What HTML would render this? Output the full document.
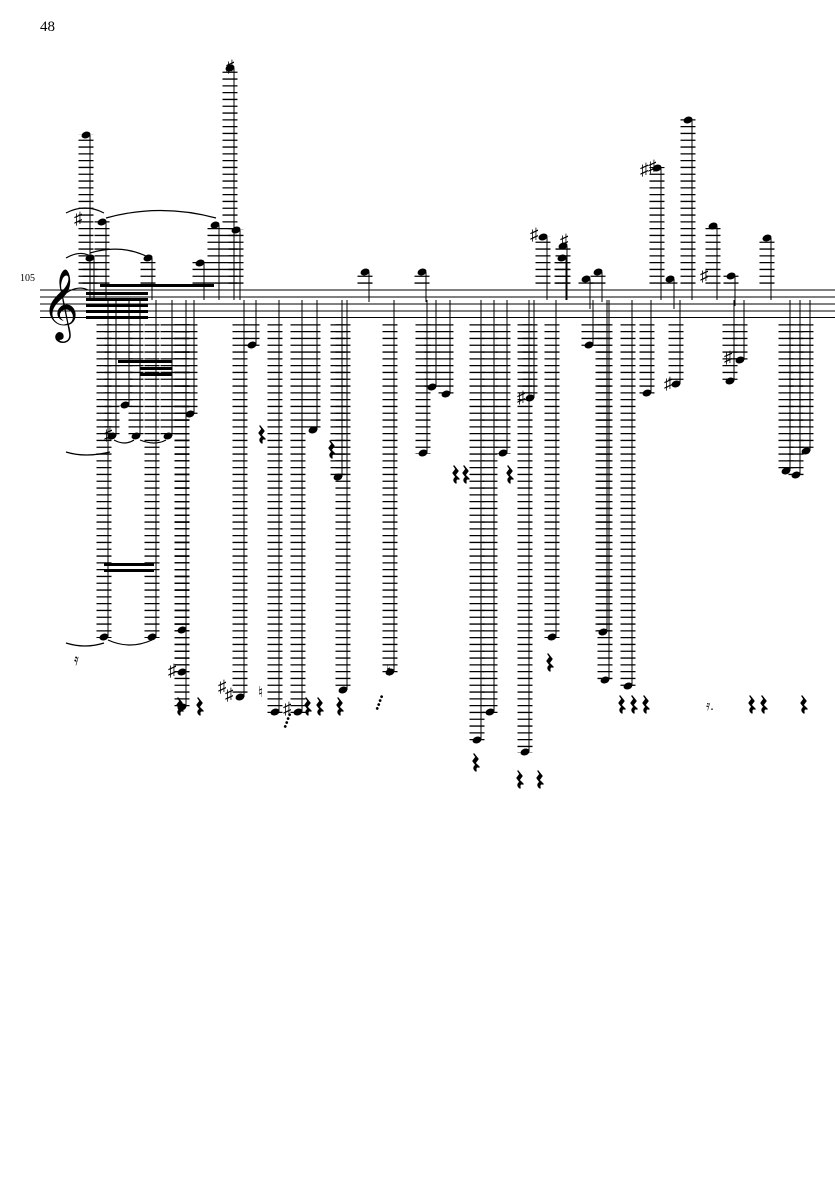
<!DOCTYPE html>
<html><head><meta charset="utf-8"><style>
html,body{margin:0;padding:0;background:#fff;width:835px;height:1181px;overflow:hidden}
svg{display:block}
text{font-family:"Liberation Serif","DejaVu Serif",serif;fill:#000}
</style></head><body>
<svg id="s" width="835" height="1181" viewBox="0 0 835 1181" xmlns="http://www.w3.org/2000/svg">
<text x="40" y="31" font-size="15">48</text>
<text x="20" y="281" font-size="10">105</text>
<g stroke="#000" stroke-width="0.9">
<line x1="40" y1="290" x2="835" y2="290"/><line x1="40" y1="297" x2="835" y2="297"/>
<line x1="40" y1="304" x2="835" y2="304"/><line x1="40" y1="311" x2="835" y2="311"/>
<line x1="40" y1="317.5" x2="835" y2="317.5"/>
</g>
<text x="42" y="325" font-size="62" font-family="DejaVu Sans">𝄞</text>
<g fill="none" stroke="#000" stroke-width="1.2">
<path d="M66 213 Q85 203 104 213"/><path d="M106 218 Q160 203 216 218"/>
<path d="M66 258 Q80 250 90 256"/><path d="M90 253 Q120 244 146 256"/>
<path d="M66 293 Q78 285 88 290"/>
<path d="M66 452 Q85 458 110 452"/><path d="M114 440 Q125 446 134 440"/><path d="M140 440 Q155 446 166 440"/>
<path d="M66 643 Q85 649 104 643"/><path d="M108 640 Q130 650 152 640"/>
</g>
<g id="g"></g>
</svg>
<script>
var g=document.getElementById('g'),h='';
var up=[[86,135],[102,222],[148,258],[90,258],[200,263],[215,225],[230,68],[236,230],[365,272],[422,272],[543,237],[562,258],[563,246],[586,279],[598,272],[657,168],[688,120],[713,226],[731,276],[767,238],[670,279]];
var dn=[[104,637],[125,405],[112,436],[136,436],[168,436],[190,414],[182,707],[240,697],[252,345],[275,712],[298,712],[313,430],[343,690],[338,477],[390,672],[432,387],[446,394],[423,453],[477,740],[490,712],[503,453],[525,752],[530,398],[552,637],[589,345],[603,632],[605,680],[628,686],[647,393],[676,384],[740,360],[730,381],[786,471],[796,475],[806,451],[152,637],[182,630],[182,672]];
function note(x,y){h+='<ellipse cx="'+x+'" cy="'+y+'" rx="4.6" ry="3.3" transform="rotate(-20 '+x+' '+y+')"/>';}
up.forEach(function(n){var x=n[0],y=n[1];
 if(y<284)h+='<line x1="'+x+'" y1="283.7" x2="'+x+'" y2="'+(y-1)+'" stroke="#000" stroke-width="15" stroke-dasharray="1.3 5.5"/>';
 h+='<line x1="'+(x+4)+'" y1="'+y+'" x2="'+(x+4)+'" y2="'+Math.max(y+30,300)+'" stroke="#000" stroke-width="1"/>';
 note(x,y);});
dn.forEach(function(n){var x=n[0],y=n[1];
 if(y>323)h+='<line x1="'+x+'" y1="324.2" x2="'+x+'" y2="'+(y+1)+'" stroke="#000" stroke-width="15" stroke-dasharray="1.3 5.5"/>';
 h+='<line x1="'+(x+4)+'" y1="'+y+'" x2="'+(x+4)+'" y2="'+Math.min(y-30,300)+'" stroke="#000" stroke-width="1"/>';
 note(x,y);});
h+='<rect x="86" y="292" width="62" height="3"/><rect x="86" y="298" width="62" height="3"/><rect x="86" y="304" width="62" height="3"/><rect x="86" y="310" width="62" height="3"/><rect x="86" y="316" width="62" height="3"/>';
h+='<rect x="100" y="284" width="114" height="3"/>';
h+='<rect x="118" y="360" width="54" height="3"/><rect x="140" y="367" width="32" height="3"/><rect x="140" y="373" width="32" height="3"/>';
h+='<rect x="104" y="563" width="50" height="3"/><rect x="104" y="569" width="50" height="3"/>';
[[74,224],[226,72],[648,172],[530,240],[560,246],[700,281],[724,363],[664,389],[517,403],[104,440],[168,676],[225,700],[283,714],[640,175],[218,692]].forEach(function(p){h+='<text x="'+p[0]+'" y="'+p[1]+'" font-size="17">♯</text>';});
[[258,697],[386,676]].forEach(function(p){h+='<text x="'+p[0]+'" y="'+p[1]+'" font-size="15">♮</text>';});
[[258,440],[328,455],[176,712],[196,712],[452,480],[462,480],[506,480],[336,712],[304,712],[316,712],[472,768],[516,785],[536,785],[546,668],[618,710],[630,710],[642,710],[748,710],[760,710],[800,710]].forEach(function(p){var x=p[0]+2,y=p[1]-14;
 h+='<path d="M'+x+' '+y+' l4 5 l-3 4 l4 4 q-4 -1 -3 4 q-4 -3 0 -6 l-3 -4 l3 -4 z" fill="#000" stroke="#000" stroke-width="1.4" stroke-linejoin="round"/>';});
h+='<text x="706" y="710" font-size="14">𝄿.</text><text x="74" y="665" font-size="16">𝄿</text>';
h+='<text x="372" y="712" font-size="12" transform="rotate(-70 376 706)">••••</text><text x="280" y="730" font-size="12" transform="rotate(-70 284 724)">••••</text>';
g.innerHTML=h;
</script>
</body></html>
